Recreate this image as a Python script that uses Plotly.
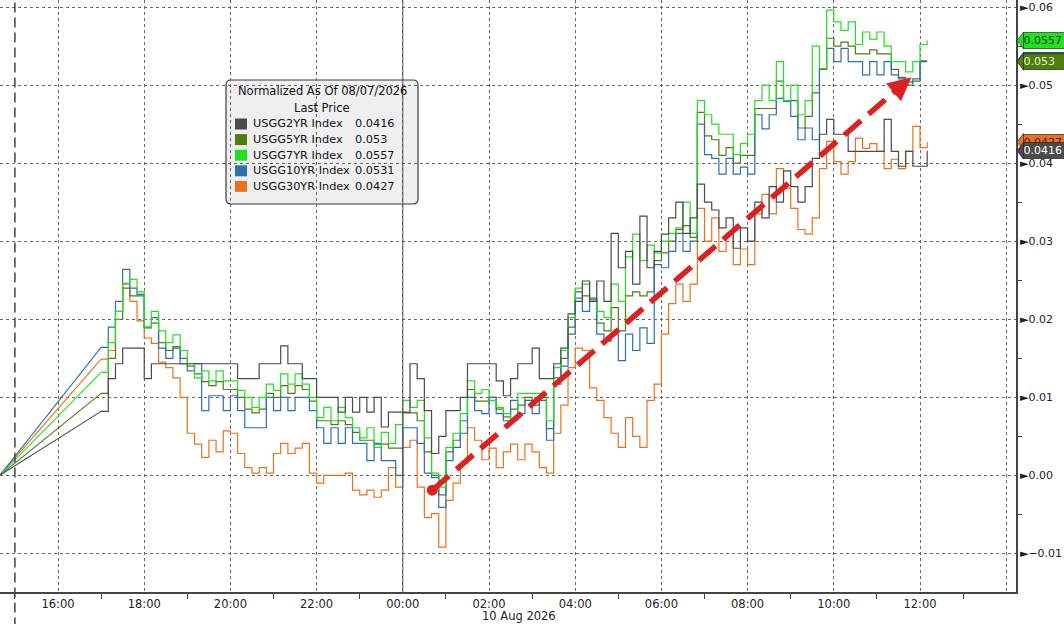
import numpy as np
import pandas as pd
import plotly.graph_objects as go

# Tiempos: cada 10 min desde la apertura del domingo hasta 12:10 del lunes
TIMES = pd.date_range("2026-08-09 17:00", "2026-08-10 12:10", freq="10min")
T_START = "2026-08-09 14:39"   # punto de normalización (borde izquierdo, valor 0)

# Ticks del eje X (cada 2 h); 14:00 sin texto, como en el original
TICK_TIMES = pd.date_range("2026-08-09 16:00", "2026-08-10 14:00", freq="2h")
TICK_LABELS = [t.strftime("%H:%M") for t in TICK_TIMES[:-1]] + [""]

# Rendimiento normalizado, en milésimas (41.6 -> 0.0416)
USGG2YR = [
    8.2, 12.4, 14.3, 16.3, 16.3, 16.3, 12.4, 14.3, 14.3, 14.3,
    14.3, 14.3, 14.3, 14.3, 14.3, 14.3, 14.3, 14.3, 14.3, 12.4,
    12.4, 12.4, 14.3, 14.3, 14.3, 16.6, 14.3, 14.3, 12.4, 12.4,
    10.0, 10.0, 10.0, 8.1, 10.0, 8.1, 10.0, 8.1, 10.0, 6.2,
    8.1, 8.1, 8.1, 14.3, 12.4, 8.3, 2.8, 5.0, 8.3, 8.3,
    10.0, 14.3, 14.3, 14.3, 14.3, 12.1, 10.2, 12.4, 14.3, 14.3,
    16.3, 12.4, 12.4, 14.3, 16.3, 20.7, 22.3, 24.9, 22.3, 24.9,
    22.3, 31.0, 26.6, 28.7, 24.5, 33.2, 26.6, 28.7, 30.9, 33.0,
    35.0, 31.0, 33.0, 37.3, 35.0, 34.0, 31.7, 33.0, 29.1, 31.7,
    30.0, 35.0, 33.0, 37.0, 35.0, 39.0, 37.0, 35.0, 37.0, 40.6,
    43.7, 45.6, 43.7, 43.7, 41.5, 41.5, 41.5, 41.5, 41.5, 45.6,
    41.5, 39.6, 41.5, 39.6, 39.6, 41.6,
]
USGG5YR = [
    10.5, 15.0, 20.0, 24.0, 23.0, 23.0, 19.0, 19.5, 17.0, 16.0,
    16.5, 15.0, 14.0, 13.0, 12.0, 11.5, 12.0, 11.0, 11.0, 10.0,
    8.5, 8.0, 8.5, 10.5, 10.0, 11.5, 10.5, 11.5, 11.0, 9.5,
    7.0, 7.0, 6.5, 7.0, 6.5, 5.5, 4.5, 4.5, 4.0, 4.0,
    3.5, 3.5, 8.0, 8.0, 7.0, 3.0, 0.0, -2.5, 3.0, 4.5,
    7.0, 11.0, 9.5, 9.5, 10.0, 8.5, 7.5, 8.5, 9.0, 10.0,
    9.0, 10.0, 6.0, 12.5, 15.0, 19.0, 23.5, 23.0, 22.5, 19.5,
    18.5, 21.5, 18.5, 23.0, 23.5, 23.0, 23.5, 27.5, 28.5, 30.0,
    31.5, 32.0, 30.5, 46.5, 43.5, 43.0, 41.0, 42.0, 40.0, 41.0,
    41.0, 47.0, 47.0, 47.0, 50.5, 48.0, 48.0, 44.5, 46.0, 49.0,
    52.0, 56.0, 55.0, 55.5, 55.0, 54.0, 54.0, 54.5, 54.0, 54.0,
    52.0, 51.0, 50.0, 50.5, 53.0, 53.0,
]
USGG7YR = [
    13.2, 17.0, 21.0, 24.6, 25.1, 23.5, 19.0, 21.0, 18.5, 17.0,
    18.0, 16.0, 14.3, 12.5, 13.4, 12.1, 13.4, 12.1, 12.1, 10.9,
    10.0, 8.7, 10.0, 11.7, 10.9, 13.0, 11.7, 13.0, 11.7, 10.0,
    7.4, 8.7, 7.0, 8.7, 7.4, 6.1, 4.8, 6.1, 3.6, 5.5,
    4.1, 6.5, 9.6, 8.7, 9.6, 4.8, 0.3, -1.5, 3.6, 5.4,
    7.9, 12.1, 10.5, 11.0, 9.6, 8.7, 7.9, 7.0, 10.5, 10.5,
    10.5, 10.5, 7.0, 13.8, 16.0, 20.2, 24.0, 24.5, 22.3, 21.0,
    20.2, 24.5, 22.3, 28.0, 30.9, 27.5, 29.5, 28.5, 30.0, 31.0,
    31.7, 35.0, 31.0, 48.0, 46.2, 45.0, 43.7, 43.7, 41.1, 42.5,
    43.7, 48.0, 50.0, 48.0, 53.0, 48.0, 50.0, 46.2, 48.0, 55.0,
    52.1, 59.6, 58.1, 57.0, 58.1, 55.2, 56.8, 55.9, 56.8, 55.0,
    53.0, 53.0, 51.7, 53.0, 55.2, 55.7,
]
USGG10YR = [
    16.4, 19.0, 22.3, 26.4, 24.0, 23.2, 18.9, 20.2, 16.3, 15.0,
    16.3, 14.3, 13.4, 14.3, 8.3, 10.2, 10.2, 8.3, 10.2, 8.3,
    6.1, 6.1, 6.1, 10.0, 8.3, 10.0, 8.3, 10.0, 10.0, 8.3,
    6.1, 4.1, 6.1, 4.1, 6.1, 4.1, 4.1, 1.9, 4.1, 1.9,
    1.9, 0.0, 6.1, 6.1, 4.1, 0.3, -0.3, -4.1, 1.9, 3.6,
    5.4, 10.0, 8.3, 7.9, 10.0, 7.9, 7.0, 9.6, 7.9, 9.6,
    7.9, 9.6, 4.5, 11.7, 14.0, 18.1, 22.7, 21.0, 22.7, 18.1,
    17.2, 18.1, 14.7, 18.1, 16.0, 18.9, 16.9, 27.0, 26.6, 28.7,
    31.0, 28.7, 30.0, 45.0, 41.1, 40.6, 38.6, 40.6, 38.6, 39.5,
    38.6, 46.2, 44.4, 46.2, 48.3, 47.9, 46.0, 43.0, 44.5, 43.0,
    52.1, 54.7, 53.0, 54.7, 53.0, 53.0, 51.3, 53.0, 51.3, 53.0,
    51.3, 50.8, 50.4, 50.8, 53.1, 53.1,
]
USGG30YR = [
    14.9, 16.0, 21.0, 24.5, 22.3, 19.8, 17.6, 16.9, 14.5, 13.8,
    12.5, 10.0, 5.4, 4.0, 2.3, 4.5, 3.0, 5.7, 5.4, 2.8,
    1.0, 0.3, 1.0, 0.3, 2.8, 4.1, 2.8, 3.5, 4.1, 0.3,
    -1.0, 0.0, 0.0, 0.0, 0.3, -1.9, -2.5, -1.9, -2.8, -1.9,
    1.0, -1.5, 3.6, 4.5, -1.5, -5.4, -4.9, -9.2, -3.2, -1.0,
    1.5, 6.1, 4.5, 2.0, 3.5, 1.0, 3.0, 4.0, 2.0, 4.0,
    3.0, 1.0, 0.3, 5.4, 9.0, 13.8, 16.3, 16.0, 11.2, 9.6,
    7.4, 5.4, 3.6, 7.4, 5.0, 3.6, 9.6, 11.7, 18.1, 22.0,
    24.5, 22.3, 24.5, 34.2, 30.0, 33.0, 28.7, 31.0, 27.0, 29.0,
    27.0, 33.5, 36.0, 33.5, 39.3, 36.8, 34.2, 31.5, 30.9, 33.0,
    39.3, 42.8, 40.2, 38.6, 40.2, 43.2, 41.9, 42.5, 41.5, 39.3,
    40.5, 39.3, 41.5, 44.7, 42.0, 42.7,
]

SERIES_NAMES = ["USGG2YR Index", "USGG5YR Index", "USGG7YR Index", "USGG10YR Index", "USGG30YR Index"]
LAST_PRICES = [0.0416, 0.053, 0.0557, 0.0531, 0.0427]
SERIES_DATA = [USGG2YR, USGG5YR, USGG7YR, USGG10YR, USGG30YR]

# Colores estilo Bloomberg
COLORS = ["#4b4b4b", "#4f7d12", "#22e022", "#2f6fb0", "#e8731f"]
LABEL_TEXT = ["#ffffff", "#e8f5c8", "#0a4a0a", "#ffffff", "#4a2200"]
RED = "#dd2020"

# Flecha roja (inicio y punta)
ARROW_START = ("2026-08-10 00:41", -0.0019)
ARROW_LINE_END = ("2026-08-10 11:34", 0.0499)
ARROW_TIP = ("2026-08-10 11:48", 0.0510)

FONT = "DejaVu Sans"
W, H = 1064, 624
PLOT_W, PLOT_H = 1016, 592


def px(x):
    return x / PLOT_W


def py(y):
    return (PLOT_H - y) / PLOT_H


fig = go.Figure()

# orden de dibujo: el 2YR queda encima
draw_order = [4, 1, 3, 2, 0]
for i in draw_order:
    vals = np.array(SERIES_DATA[i]) / 1000.0
    # tramo lineal desde el punto de normalización hasta la apertura
    fig.add_trace(go.Scatter(
        x=[pd.Timestamp(T_START), TIMES[0]],
        y=[0.0, vals[0]],
        mode="lines",
        line=dict(color=COLORS[i], width=1.1),
        showlegend=False,
        hoverinfo="skip",
    ))
    fig.add_trace(go.Scatter(
        x=TIMES,
        y=vals,
        mode="lines",
        name=SERIES_NAMES[i],
        line=dict(color=COLORS[i], width=1.2, shape="hv"),
        showlegend=False,
    ))

shapes = []
annotations = []

# línea vertical sólida a medianoche y discontinua a las 15:00
shapes.append(dict(type="line", xref="x", yref="paper", x0="2026-08-10 00:00", x1="2026-08-10 00:00",
                   y0=0, y1=1, line=dict(color="#555555", width=1)))
shapes.append(dict(type="line", xref="x", yref="paper", x0="2026-08-09 15:00", x1="2026-08-09 15:00",
                   y0=-0.06, y1=1, line=dict(color="#444444", width=1.5, dash="10px,5px")))

# flecha roja discontinua
shapes.append(dict(type="line", xref="x", yref="y",
                   x0=ARROW_START[0], y0=ARROW_START[1], x1=ARROW_LINE_END[0], y1=ARROW_LINE_END[1],
                   line=dict(color=RED, width=5.5, dash="22px,10px")))
shapes.append(dict(type="circle", xref="x", yref="y", xsizemode="pixel", ysizemode="pixel",
                   xanchor=ARROW_START[0], yanchor=ARROW_START[1], x0=-5.5, x1=5.5, y0=-5.5, y1=5.5,
                   fillcolor=RED, line=dict(width=0)))
annotations.append(dict(x=ARROW_TIP[0], y=ARROW_TIP[1], xref="x", yref="y", ax=-19, ay=16,
                        text="", showarrow=True, arrowhead=2, arrowsize=0.85, arrowwidth=5.5,
                        arrowcolor=RED))

# caja de leyenda (redondeada)
x0, x1, y0, y1 = px(226), px(418), py(204), py(80)
rx, ry = 5 / PLOT_W, 5 / PLOT_H
path = (f"M {x0+rx},{y1} L {x1-rx},{y1} Q {x1},{y1} {x1},{y1-ry} L {x1},{y0+ry} "
        f"Q {x1},{y0} {x1-rx},{y0} L {x0+rx},{y0} Q {x0},{y0} {x0},{y0+ry} "
        f"L {x0},{y1-ry} Q {x0},{y1} {x0+rx},{y1} Z")
shapes.append(dict(type="path", xref="paper", yref="paper", path=path, layer="below",
                   fillcolor="#efefef", line=dict(color="#3a3a3a", width=1.2)))
annotations.append(dict(x=px(322), y=py(91), xref="paper", yref="paper", text="Normalized As Of 08/07/2026",
                        showarrow=False, xanchor="center", yanchor="middle",
                        font=dict(family=FONT, size=11.5, color="#111111")))
annotations.append(dict(x=px(322), y=py(107.5), xref="paper", yref="paper", text="Last Price",
                        showarrow=False, xanchor="center", yanchor="middle",
                        font=dict(family=FONT, size=11.5, color="#111111")))
for k, name in enumerate(SERIES_NAMES):
    ry_ = 124 + 15.6 * k
    shapes.append(dict(type="rect", xref="paper", yref="paper", x0=px(235), x1=px(247),
                       y0=py(ry_ + 5.5), y1=py(ry_ - 5.5), fillcolor=COLORS[k], line=dict(width=0)))
    annotations.append(dict(x=px(251), y=py(ry_), xref="paper", yref="paper", text=name,
                            showarrow=False, xanchor="left", yanchor="middle",
                            font=dict(family=FONT, size=11.3, color="#111111")))
    annotations.append(dict(x=px(353), y=py(ry_), xref="paper", yref="paper", text=f"{LAST_PRICES[k]:g}",
                            showarrow=False, xanchor="left", yanchor="middle",
                            font=dict(family=FONT, size=11.3, color="#111111")))

# etiquetas de último precio a la derecha del eje (las últimas quedan encima)
hh = 8.5 / 7830.0
xt, xb = px(1017), px(1023.5)
for k in [3, 1, 4, 0, 2]:
    v = LAST_PRICES[k]
    shapes.append(dict(type="path", xref="paper", yref="y",
                       path=f"M {xt},{v} L {xb},{v+hh} L {xb},{v-hh} Z",
                       fillcolor=COLORS[k], line=dict(color="#222222", width=0.6)))
    annotations.append(dict(x=px(1023), y=v, xref="paper", yref="y", text=f"{v:g}", showarrow=False,
                            xanchor="left", yanchor="middle", align="left", width=52, height=16,
                            bgcolor=COLORS[k], bordercolor="#222222", borderwidth=0.6, borderpad=0,
                            font=dict(family=FONT, size=11, color=LABEL_TEXT[k])))

# fecha bajo el eje
annotations.append(dict(x="2026-08-10 01:47", y=py(616), xref="x", yref="paper", text="10 Aug 2026",
                        showarrow=False, xanchor="left", yanchor="middle",
                        font=dict(family=FONT, size=11.5, color="#222222")))

fig.update_layout(
    width=W,
    height=H,
    margin=dict(l=0, r=W - PLOT_W, t=0, b=H - PLOT_H),
    plot_bgcolor="white",
    paper_bgcolor="white",
    font=dict(family=FONT, size=11.5, color="#222222"),
    showlegend=False,
    shapes=shapes,
    annotations=annotations,
    xaxis=dict(
        type="date",
        range=["2026-08-09 14:39:15", "2026-08-10 14:13:37"],
        tickmode="array",
        tickvals=TICK_TIMES,
        ticktext=TICK_LABELS,
        ticks="",
        showgrid=True,
        gridcolor="#666666",
        griddash="dot",
        gridwidth=1,
        showline=True,
        linecolor="#444444",
        linewidth=1.5,
        zeroline=False,
        minor=dict(tick0="2026-08-09 15:00", dtick=7200000, ticks="outside", ticklen=5,
                   tickcolor="#444444", showgrid=False),
        tickfont=dict(family=FONT, size=11.5, color="#222222"),
    ),
    yaxis=dict(
        side="right",
        range=[-0.01494, 0.0609],
        dtick=0.01,
        tickformat=".2f",
        tickprefix="►",
        ticks="",
        showgrid=True,
        gridcolor="#666666",
        griddash="dot",
        gridwidth=1,
        showline=True,
        linecolor="#444444",
        linewidth=1.5,
        zeroline=False,
        minor=dict(dtick=0.005, ticks="outside", ticklen=4, tickcolor="#444444", showgrid=False),
        tickfont=dict(family=FONT, size=11, color="#222222"),
    ),
)

# sin margen del body para que el gráfico ocupe la ventana completa
fig.write_html("out.html", config={"displayModeBar": False},
               post_script="document.body.style.margin='0px';")
